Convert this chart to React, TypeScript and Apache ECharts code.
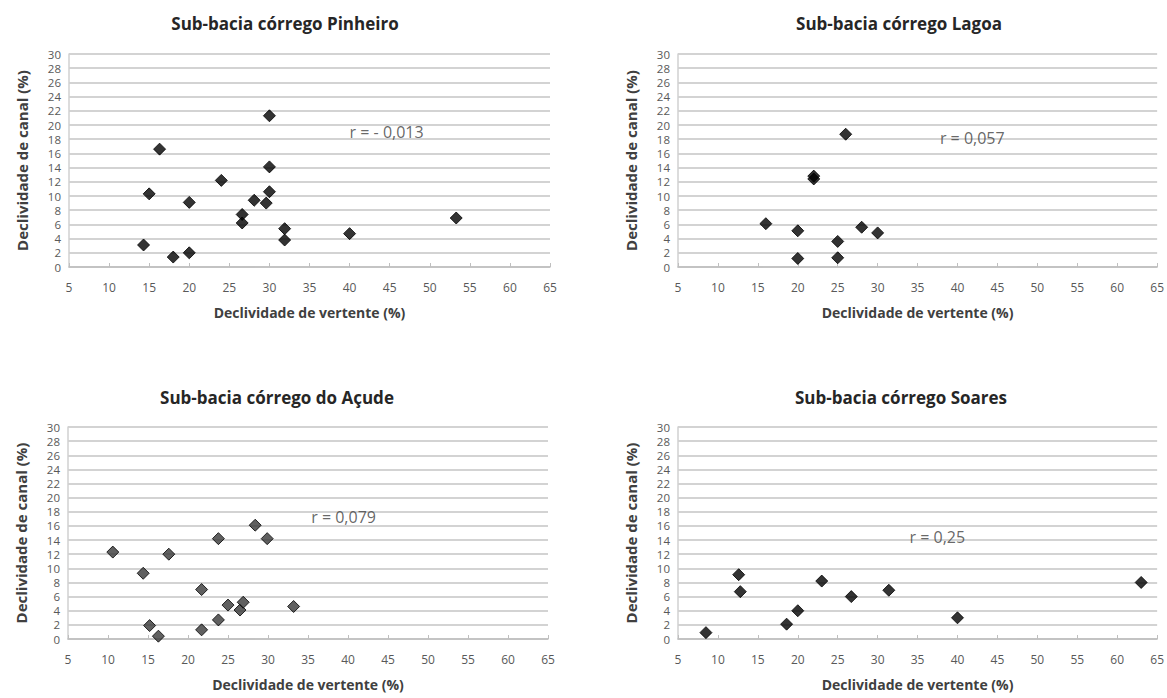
import React, { useEffect, useRef } from "react";
import * as echarts from "echarts";

const titles = [
  "Sub-bacia córrego Pinheiro",
  "Sub-bacia córrego Lagoa",
  "Sub-bacia córrego do Açude",
  "Sub-bacia córrego Soares",
];

const pinheiroX = [14.3, 15.0, 16.3, 18.0, 20.0, 20.0, 24.0, 26.6, 26.6, 28.1, 29.6, 30.0, 30.0, 30.0, 31.9, 31.9, 40.0, 53.3];
const pinheiroY = [3.1, 10.3, 16.6, 1.4, 2.0, 9.1, 12.2, 7.4, 6.2, 9.4, 9.0, 10.6, 14.1, 21.3, 5.4, 3.8, 4.7, 6.9];

const lagoaX = [16.0, 20.0, 20.0, 22.0, 22.0, 25.0, 25.0, 26.0, 28.0, 30.0];
const lagoaY = [6.1, 5.1, 1.2, 12.8, 12.4, 3.6, 1.3, 18.7, 5.6, 4.8];

const acudeX = [10.6, 14.4, 15.2, 16.3, 17.6, 21.7, 21.7, 23.8, 23.8, 25.0, 26.5, 26.9, 28.4, 29.9, 33.2];
const acudeY = [12.3, 9.3, 1.9, 0.4, 12.0, 7.0, 1.3, 14.2, 2.7, 4.8, 4.1, 5.2, 16.1, 14.2, 4.6];

const soaresX = [8.5, 12.6, 12.8, 18.6, 20.0, 23.0, 26.7, 31.4, 40.0, 63.0];
const soaresY = [0.9, 9.1, 6.7, 2.1, 4.0, 8.2, 6.0, 6.9, 3.0, 8.0];

const rLabels = ["r = - 0,013", "r = 0,057", "r = 0,079", "r = 0,25"];
const rX = [40.0, 37.8, 35.4, 34.0];
const rY = [19.0, 18.2, 17.3, 14.5];

const xTitle = "Declividade de vertente (%)";
const yTitle = "Declividade de canal (%)";

const seriesX = [pinheiroX, lagoaX, acudeX, soaresX];
const seriesY = [pinheiroY, lagoaY, acudeY, soaresY];

const grids = [
  { left: 69, top: 54, width: 481, height: 213 },
  { left: 678, top: 54, width: 480, height: 213 },
  { left: 68, top: 427, width: 480, height: 212 },
  { left: 678, top: 427, width: 480, height: 212 },
];
const titlePos = [
  { x: 280, y: 10 },
  { x: 894, y: 10 },
  { x: 272, y: 384 },
  { x: 896, y: 384 },
];
const markerFill = ["#000000", "#000000", "#383838", "#000000"];

const FONT = "'Open Sans', 'Noto Sans', sans-serif";

export default function App() {
  const ref = useRef<HTMLDivElement>(null);
  useEffect(() => {
    if (!ref.current) return;
    const chart = echarts.init(ref.current, null, { renderer: "svg" });
    const option: any = {
      animation: false,
      backgroundColor: "#ffffff",
      textStyle: { fontFamily: FONT },
      title: titles.map((t, i) => ({
        text: t,
        left: titlePos[i].x,
        top: titlePos[i].y,
        textAlign: "center",
        textStyle: { fontFamily: FONT, fontSize: 17, fontWeight: "bold", color: "#262626" },
      })),
      grid: grids.map((g) => ({ ...g, containLabel: false })),
      xAxis: grids.map((_, i) => ({
        type: "value",
        gridIndex: i,
        min: 5,
        max: 65,
        interval: 5,
        name: xTitle,
        nameLocation: "middle",
        nameGap: 38,
        nameTextStyle: { fontFamily: FONT, fontSize: 14, fontWeight: "bold", color: "#404040" },
        axisLine: { show: true, lineStyle: { color: "#bfbfbf", width: 1.5 } },
        axisTick: { show: true, inside: true, length: 4, lineStyle: { color: "#bfbfbf" } },
        axisLabel: { fontFamily: FONT, fontSize: 12, color: "#595959", margin: 14 },
        splitLine: { show: false },
      })),
      yAxis: grids.map((_, i) => ({
        type: "value",
        gridIndex: i,
        min: 0,
        max: 30,
        interval: 2,
        name: yTitle,
        nameLocation: "middle",
        nameRotate: 90,
        nameGap: 40,
        nameTextStyle: { fontFamily: FONT, fontSize: 15, fontWeight: "bold", color: "#404040" },
        axisLine: { show: true, lineStyle: { color: "#d0d0d0", width: 1.5 } },
        axisTick: { show: false },
        axisLabel: { fontFamily: FONT, fontSize: 11.5, lineHeight: 12, color: "#595959", margin: 8 },
        splitLine: { show: true, lineStyle: { color: "#d3d3d3", width: 2 } },
      })),
      series: [
        ...seriesX.map((xs, i) => ({
          type: "scatter",
          xAxisIndex: i,
          yAxisIndex: i,
          symbol: "diamond",
          symbolSize: 12,
          itemStyle: { color: markerFill[i], borderColor: "#000000", borderWidth: 1 },
          data: xs.map((x, j) => [x, seriesY[i][j]]),
        })),
        ...rLabels.map((t, i) => ({
          type: "scatter",
          xAxisIndex: i,
          yAxisIndex: i,
          symbolSize: 0,
          silent: true,
          data: [[rX[i], rY[i]]],
          label: {
            show: true,
            formatter: t,
            position: "right",
            distance: 0,
            fontFamily: FONT,
            fontSize: 16,
            color: "#404040",
          },
        })),
      ],
    };
    chart.setOption(option);
    return () => chart.dispose();
  }, []);
  return (
    <div
      ref={ref}
      style={{ position: "absolute", left: 0, top: 0, width: 1167, height: 698, background: "#fff" }}
    />
  );
}
